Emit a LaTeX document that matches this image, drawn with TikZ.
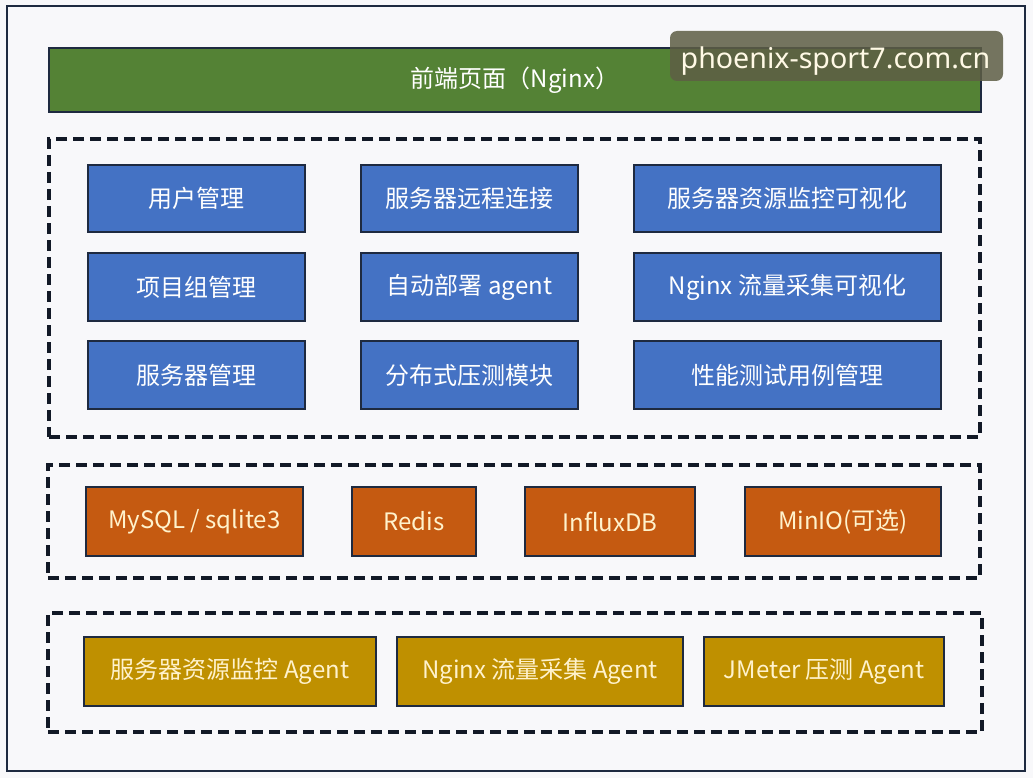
\documentclass[tikz,border=0pt]{standalone}
\usepackage{fontspec}
\setmainfont{Noto Sans CJK SC}
\newfontfamily\wmfont{Noto Sans}
\usetikzlibrary{positioning}
\definecolor{bgc}{HTML}{F8F8FA}
\definecolor{navy}{HTML}{1E2A40}
\definecolor{grn}{HTML}{548235}
\definecolor{blu}{HTML}{4472C4}
\definecolor{org}{HTML}{C55A11}
\definecolor{gld}{HTML}{BF9000}
\definecolor{cream}{HTML}{FFF2CC}
\definecolor{wmc}{HTML}{5E5E45}
\newcommand{\bx}[7]{%
  \node[#6, minimum width={#4-#2}, minimum height={#5-#3}] (#1) at ({(#2+#4)/2},{(#3+#5)/2}) {#7};}
\tikzset{
  base/.style={draw=navy, line width=2.6pt, inner sep=0pt, outer sep=0pt, font=\fontsize{24}{28}\selectfont},
  greenbox/.style={base, fill=grn, text=white},
  bluebox/.style={base, fill=blu, text=white},
  orangebox/.style={base, fill=org, text=cream},
  goldbox/.style={base, fill=gld, text=cream},
  layer/.style={draw=navy!60!black, line width=3.2pt, dash pattern=on 11pt off 6pt, inner sep=0pt},
}
\begin{document}
\begin{tikzpicture}[x=1pt, y=-1pt]
\useasboundingbox (0,0) rectangle (1033,778);
\fill[bgc] (0,0) rectangle (1033,778);
\draw[navy, line width=2.4pt] (7,6) rectangle (1025,771);
% top bar
\bx{front}{49}{48}{981}{112}{greenbox}{前端页面（Nginx）}
% layer 1
\node[layer, minimum width=931, minimum height=298] (L1) at (514.5,288) {};
\bx{u1}{88}{165}{305}{232}{bluebox}{用户管理}
\bx{u2}{361}{165}{578}{232}{bluebox}{服务器远程连接}
\bx{u3}{634}{165}{941}{232}{bluebox}{服务器资源监控可视化}
\bx{u4}{88}{253}{305}{321}{bluebox}{项目组管理}
\bx{u5}{361}{253}{578}{321}{bluebox}{自动部署 agent}
\bx{u6}{634}{253}{941}{321}{bluebox}{Nginx 流量采集可视化}
\bx{u7}{88}{341}{305}{409}{bluebox}{服务器管理}
\bx{u8}{361}{341}{578}{409}{bluebox}{分布式压测模块}
\bx{u9}{634}{341}{941}{409}{bluebox}{性能测试用例管理}
% layer 2
\node[layer, minimum width=932, minimum height=113] (L2) at (514,521.5) {};
\bx{d1}{86}{487}{303}{556}{orangebox}{MySQL / sqlite3}
\bx{d2}{352}{487}{476}{556}{orangebox}{Redis}
\bx{d3}{525}{487}{695}{556}{orangebox}{InfluxDB}
\bx{d4}{745}{487}{941}{556}{orangebox}{MinIO(可选)}
% layer 3
\node[layer, minimum width=934, minimum height=119] (L3) at (515,672.5) {};
\bx{a1}{84}{637}{376}{706}{goldbox}{服务器资源监控 Agent}
\bx{a2}{397}{637}{683}{706}{goldbox}{Nginx 流量采集 Agent}
\bx{a3}{704}{637}{944}{706}{goldbox}{JMeter 压测 Agent}
% watermark
\node[fill=wmc, fill opacity=0.85, rounded corners=7pt,
  minimum width=333, minimum height=50, inner sep=0pt] (wm) at (836.5,56) {};
\node[text=cream!50!white, inner sep=0pt, font=\wmfont\fontsize{28.6}{30}\selectfont]
  (wmt) at (835.5,61) {phoenix-sport7.com.cn};
\end{tikzpicture}
\end{document}
